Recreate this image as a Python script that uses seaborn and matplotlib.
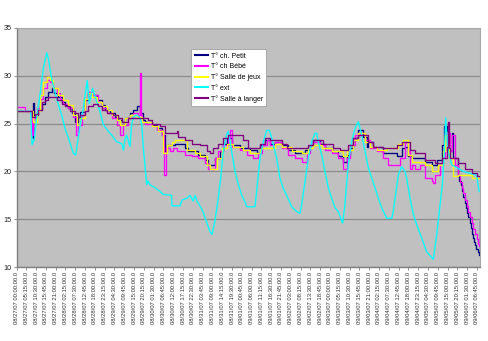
import matplotlib
matplotlib.use("Agg")
import matplotlib.pyplot as plt
import seaborn as sns
import pandas as pd

# Temperature readings: (hours since 08/27/07 00:00, °C)
petit = [(0, 26.3), (8.1, 24.5), (8.6, 23.5), (9.0, 27.2), (9.4, 25.9), (11.7, 26.4), (13.5, 27.0),
         (15.3, 27.8), (17.1, 28.3), (18.8, 28.7), (20.3, 28.2), (22.4, 27.8), (24.2, 27.3), (26.0, 26.9),
         (27.8, 26.6), (29.6, 26.1), (31.3, 25.2), (32.8, 25.7), (34.0, 26.2), (36.7, 27.5), (38.5, 28.2),
         (40.3, 28.0), (43.0, 27.5), (45.6, 26.9), (47.4, 26.4), (50.1, 26.1), (52.8, 25.7), (54.6, 25.4),
         (56.4, 25.2), (58.1, 25.6), (60.8, 26.1), (62.6, 26.4), (64.4, 26.8), (66.2, 26.1), (68.0, 25.4),
         (68.9, 25.2), (72.4, 24.9), (75.1, 24.5), (77.8, 23.8), (79.6, 22.1), (80.5, 22.8), (84.9, 22.9),
         (90.3, 22.4), (92.1, 22.1), (97.4, 21.7), (101.0, 21.2), (102.8, 20.7), (106.4, 21.4), (109.1, 22.1),
         (110.8, 22.9), (112.6, 23.5), (115.3, 22.8), (119.8, 22.4), (125.1, 22.2), (128.7, 21.9), (130.5, 22.8),
         (133.2, 23.3), (135.9, 22.9), (138.5, 23.1), (142.1, 22.8), (145.7, 22.2), (149.3, 21.9), (154.6, 22.2),
         (157.3, 22.8), (159.1, 23.3), (162.6, 22.9), (165.3, 22.4), (168.9, 22.1), (172.5, 21.6), (175.2, 21.0),
         (177.0, 21.7), (178.7, 22.4), (180.5, 23.5), (183.2, 24.3), (185.9, 23.6), (187.7, 22.6), (188.6, 23.1),
         (191.2, 22.6), (196.6, 21.9), (203.7, 21.6), (206.4, 22.4), (208.2, 22.6), (210.0, 21.6), (211.8, 21.4),
         (218.9, 21.0), (222.5, 20.7), (225.2, 21.2), (227.9, 22.8), (229.3, 24.8), (230.5, 24.2), (231.4, 22.1),
         (233.2, 24.0), (234.1, 21.4), (236.8, 19.5), (237.4, 19.0), (238.0, 18.6), (238.7, 17.9), (239.5, 17.3),
         (240.1, 16.7), (240.7, 16.2), (241.4, 15.7), (242.1, 15.2), (242.8, 14.6), (243.4, 14.1), (244.1, 13.5),
         (244.8, 13.0), (245.3, 12.6), (245.7, 12.3), (246.4, 11.9), (247.1, 11.6), (247.9, 11.3), (248.2, 14.8)]

bebe = [(0, 26.7), (4.6, 26.3), (8.1, 23.8), (9.0, 25.6), (10.8, 26.6), (12.6, 27.6), (14.4, 28.7), (16.2, 29.6),
        (18.0, 29.4), (19.7, 28.7), (21.5, 28.2), (23.3, 27.6), (25.1, 27.1), (27.8, 26.6), (30.5, 25.7),
        (31.7, 23.8), (33.1, 24.9), (34.9, 25.9), (36.7, 27.6), (38.5, 28.3), (40.3, 28.0), (43.9, 27.3),
        (45.6, 26.6), (48.3, 26.1), (51.0, 25.6), (53.7, 24.9), (55.5, 23.8), (57.3, 24.9), (59.9, 25.6),
        (62.6, 26.1), (65.3, 25.9), (66.2, 30.3), (66.7, 25.9), (67.1, 25.2), (68.9, 25.0), (72.4, 24.7),
        (75.1, 24.3), (77.8, 23.8), (79.2, 19.6), (80.1, 22.4), (82.3, 22.1), (84.0, 22.4), (85.8, 22.1),
        (90.3, 21.7), (93.9, 21.6), (97.4, 21.4), (101.0, 20.9), (102.8, 20.3), (106.4, 21.4), (108.2, 22.1),
        (110.8, 22.8), (113.5, 23.5), (114.4, 24.3), (115.3, 22.6), (119.8, 22.2), (123.4, 21.7), (126.9, 21.4),
        (129.6, 21.9), (131.4, 22.8), (134.1, 23.3), (135.9, 22.8), (138.5, 23.1), (142.1, 22.4), (145.7, 21.7),
        (149.3, 21.4), (152.8, 21.0), (155.5, 21.9), (157.3, 22.8), (159.1, 23.1), (162.6, 22.8), (165.3, 22.2),
        (168.9, 21.9), (172.5, 21.4), (175.2, 20.3), (177.0, 21.4), (178.7, 22.8), (181.4, 23.8), (184.1, 24.0),
        (186.8, 23.3), (189.4, 22.4), (193.0, 22.1), (196.6, 21.4), (199.3, 20.7), (205.5, 21.4), (208.2, 23.1),
        (210.0, 22.1), (210.9, 20.3), (211.8, 20.7), (213.6, 20.2), (216.0, 20.7), (218.9, 19.3), (222.5, 19.0),
        (223.4, 18.8), (224.3, 19.6), (227.0, 20.7), (228.7, 21.5), (229.6, 23.8), (230.5, 24.0), (232.3, 22.1),
        (233.2, 23.8), (235.0, 20.7), (236.8, 19.6), (237.7, 18.9), (238.6, 18.3), (239.5, 17.7), (240.4, 17.0),
        (241.3, 16.4), (242.2, 15.8), (243.1, 15.2), (243.9, 14.6), (244.8, 14.0), (245.7, 13.5), (246.6, 12.9),
        (247.4, 12.4), (247.9, 12.2), (248.2, 13.0)]

jeux = [(0, 26.3), (9.0, 25.2), (10.8, 26.3), (12.6, 28.0), (14.4, 29.4), (16.2, 29.9), (18.0, 29.6), (19.7, 28.7),
        (22.4, 28.0), (25.1, 27.5), (27.8, 26.9), (30.5, 25.9), (32.2, 24.9), (34.0, 25.6), (36.7, 27.6),
        (38.5, 28.2), (40.3, 27.8), (43.0, 27.3), (45.6, 26.8), (48.3, 26.4), (51.0, 25.9), (53.7, 25.4),
        (55.5, 24.9), (58.1, 25.6), (60.8, 25.9), (64.4, 25.7), (67.1, 25.2), (72.4, 24.7), (76.0, 24.2),
        (78.7, 21.9), (80.5, 22.8), (83.2, 23.1), (84.9, 23.3), (91.2, 22.2), (95.7, 21.9), (98.3, 21.6),
        (101.9, 20.7), (103.7, 20.3), (107.3, 21.4), (110.0, 22.4), (112.6, 22.9), (116.2, 22.6), (121.6, 22.2),
        (125.1, 21.9), (130.5, 22.4), (138.5, 22.9), (142.1, 22.6), (147.5, 22.1), (152.8, 21.9), (156.4, 22.4),
        (159.1, 22.8), (163.5, 22.4), (168.9, 22.1), (175.2, 21.6), (177.0, 22.2), (180.5, 23.3), (183.2, 24.0),
        (186.8, 23.1), (189.4, 22.6), (193.0, 22.2), (198.4, 22.4), (204.6, 22.9), (207.3, 23.3), (210.0, 21.7),
        (211.8, 21.0), (218.9, 20.7), (222.5, 20.0), (226.1, 20.7), (228.7, 22.1), (229.6, 23.8), (231.8, 21.4),
        (234.1, 19.5), (236.8, 19.6), (243.9, 19.3), (248.2, 19.3)]

ext = [(0, 26.3), (7.6, 26.3), (8.3, 22.8), (9.5, 23.3), (10.8, 25.6), (12.6, 28.0), (14.4, 30.8), (16.2, 32.4),
       (17.1, 31.8), (18.8, 29.7), (20.6, 28.3), (22.4, 27.0), (24.2, 25.9), (26.0, 24.5), (27.8, 23.5),
       (29.6, 22.4), (30.5, 21.9), (31.7, 21.7), (32.8, 23.1), (34.0, 24.7), (35.8, 26.6), (37.9, 29.5),
       (39.0, 27.1), (40.8, 28.7), (43.0, 27.3), (44.7, 26.3), (46.5, 24.9), (49.2, 24.2), (51.0, 23.8),
       (53.7, 23.1), (56.4, 22.9), (57.3, 22.2), (58.1, 23.3), (59.0, 23.8), (60.8, 22.6), (61.7, 24.9),
       (62.6, 25.7), (64.4, 25.9), (66.2, 25.6), (67.1, 24.9), (68.0, 22.4), (69.8, 18.6), (70.5, 19.0),
       (71.5, 18.6), (74.2, 18.3), (76.9, 17.9), (78.5, 17.6), (83.1, 17.5), (83.3, 16.4), (87.6, 16.4),
       (88.7, 17.0), (91.4, 17.2), (93.0, 17.5), (94.6, 16.9), (95.7, 17.5), (96.7, 16.9), (98.3, 16.4),
       (99.9, 15.8), (102.1, 14.6), (103.7, 13.7), (104.8, 13.4), (106.4, 14.9), (108.0, 17.0), (109.6, 19.6),
       (110.8, 22.1), (112.6, 23.8), (113.5, 24.2), (115.3, 22.1), (117.1, 20.0), (118.9, 18.6), (120.7, 17.5),
       (122.5, 16.8), (123.4, 16.3), (127.8, 16.3), (128.7, 17.9), (130.5, 21.4), (132.3, 23.1), (134.1, 24.3),
       (135.5, 24.3), (136.8, 23.5), (138.5, 22.1), (139.4, 21.4), (141.2, 19.3), (143.0, 18.2), (144.8, 17.5),
       (147.5, 16.3), (150.2, 15.8), (151.9, 15.6), (152.8, 16.5), (154.6, 18.9), (156.4, 21.4), (158.2, 23.1),
       (160.0, 24.0), (160.9, 24.0), (161.7, 23.1), (163.6, 21.7), (165.3, 20.0), (167.1, 18.3), (168.9, 17.2),
       (170.7, 16.2), (172.5, 15.8), (174.3, 14.8), (174.8, 14.6), (176.0, 16.5), (177.8, 20.7), (179.6, 23.1),
       (181.4, 24.5), (183.2, 25.2), (185.0, 23.8), (186.8, 22.1), (188.5, 20.4), (190.4, 19.3), (192.1, 18.3),
       (193.9, 17.2), (195.7, 16.2), (198.4, 15.1), (201.1, 15.1), (201.9, 15.8), (203.4, 17.9), (204.6, 19.6),
       (206.4, 20.5), (208.2, 20.0), (209.1, 19.3), (210.9, 17.2), (212.7, 15.5), (214.5, 14.4), (217.2, 13.0),
       (219.8, 11.6), (222.5, 11.0), (223.4, 10.8), (225.2, 13.4), (227.0, 16.5), (228.2, 18.6), (229.3, 22.1),
       (230.0, 25.6), (230.5, 24.2), (231.4, 22.1), (233.2, 20.7), (235.9, 20.4), (239.5, 20.0), (243.0, 19.8),
       (246.6, 19.6), (247.9, 17.9)]

langer = [(0, 26.3), (8.1, 25.7), (9.9, 26.0), (11.7, 26.4), (13.5, 27.3), (15.3, 27.5), (17.1, 27.8),
          (21.5, 27.5), (24.2, 27.1), (26.0, 26.8), (28.7, 26.3), (31.3, 26.1), (33.1, 25.7), (34.0, 25.9),
          (36.7, 26.3), (38.5, 26.8), (41.2, 27.1), (43.9, 26.8), (45.7, 26.4), (48.3, 26.1), (51.9, 25.9),
          (54.6, 25.6), (56.4, 25.2), (59.9, 25.6), (70.5, 25.4), (72.4, 25.0), (76.9, 24.7), (79.6, 24.0),
          (85.8, 24.2), (86.7, 23.6), (90.3, 23.3), (93.9, 22.9), (98.3, 22.8), (101.9, 22.1), (103.7, 21.9),
          (105.5, 22.4), (108.2, 22.9), (110.8, 23.5), (113.5, 23.8), (121.6, 23.3), (124.2, 22.4), (130.5, 22.9),
          (133.2, 23.5), (135.9, 23.3), (142.1, 22.9), (144.8, 22.4), (156.4, 22.8), (159.1, 23.3), (164.4, 22.9),
          (169.8, 22.4), (173.4, 22.2), (177.8, 22.8), (180.5, 23.5), (183.2, 23.8), (188.6, 23.1), (191.2, 22.6),
          (196.6, 22.4), (203.7, 22.8), (206.4, 23.1), (210.9, 22.2), (213.6, 21.9), (218.9, 21.2), (224.3, 20.9),
          (227.9, 21.4), (230.5, 22.6), (231.0, 25.2), (231.8, 22.4), (232.3, 21.4), (236.8, 20.9), (240.4, 20.2),
          (243.9, 19.8), (246.6, 19.5), (248.2, 19.3)]

series_names = ["T° ch. Petit", "T° ch Bébé", "T° Salle de jeux", "T° ext", "T° Salle à langer"]
series_colors = ["#000080", "#FF00FF", "#FFFF00", "#00FFFF", "#800080"]
series_steps = [True, True, True, False, True]

tick_labels = [
    "08/27/07 00:00:00.0", "08/27/07 05:15:00.0", "08/27/07 10:30:00.0", "08/27/07 15:45:00.0",
    "08/27/07 21:00:00.0", "08/28/07 02:15:00.0", "08/28/07 07:30:00.0", "08/28/07 12:45:00.0",
    "08/28/07 18:00:00.0", "08/28/07 23:15:00.0", "08/29/07 04:30:00.0", "08/29/07 09:45:00.0",
    "08/29/07 15:00:00.0", "08/29/07 20:15:00.0", "08/30/07 01:30:00.0", "08/30/07 06:45:00.0",
    "08/30/07 12:00:00.0", "08/30/07 17:15:00.0", "08/30/07 22:30:00.0", "08/31/07 03:45:00.0",
    "08/31/07 09:00:00.0", "08/31/07 14:15:00.0", "08/31/07 19:30:00.0", "09/01/07 00:45:00.0",
    "09/01/07 06:00:00.0", "09/01/07 11:15:00.0", "09/01/07 16:30:00.0", "09/01/07 21:45:00.0",
    "09/02/07 03:00:00.0", "09/02/07 08:15:00.0", "09/02/07 13:30:00.0", "09/02/07 18:45:00.0",
    "09/03/07 00:00:00.0", "09/03/07 05:15:00.0", "09/03/07 10:30:00.0", "09/03/07 15:45:00.0",
    "09/03/07 21:00:00.0", "09/04/07 02:15:00.0", "09/04/07 07:30:00.0", "09/04/07 12:45:00.0",
    "09/04/07 18:00:00.0", "09/04/07 23:15:00.0", "09/05/07 04:30:00.0", "09/05/07 09:45:00.0",
    "09/05/07 15:00:00.0", "09/05/07 20:15:00.0", "09/06/07 01:30:00.0", "09/06/07 06:45:00.0",
]

plt.rcParams["font.family"] = ["Liberation Sans", "DejaVu Sans"]

W, H = 488, 341
fig = plt.figure(figsize=(W / 100, H / 100), dpi=100)
fig.patch.set_facecolor("white")
ax = fig.add_axes([16.5 / W, 1 - 267 / H, (480 - 16.5) / W, (267 - 28) / H])
ax.set_facecolor("#C0C0C0")

for data, name, color, step in zip([petit, bebe, jeux, ext, langer],
                                   series_names, series_colors, series_steps):
    df = pd.DataFrame(data, columns=["heure", "temp"])
    kw = {"drawstyle": "steps-post"} if step else {}
    sns.lineplot(data=df, x="heure", y="temp", ax=ax, color=color, linewidth=0.95,
                 estimator=None, sort=False, label=name, legend=False, **kw)

# Category labels placed at their elapsed hours
t0 = pd.to_datetime(tick_labels[0], format="%m/%d/%y %H:%M:%S.0")
tick_hours = [(pd.to_datetime(s, format="%m/%d/%y %H:%M:%S.0") - t0).total_seconds() / 3600
              for s in tick_labels]

ax.set_xlim(0, 248.4)
ax.set_ylim(10, 35)
ax.set_xticks(tick_hours)
ax.set_xticklabels(tick_labels, rotation=90, fontsize=4.2, color="#333333")
ax.set_yticks([10, 15, 20, 25, 30, 35])
ax.set_yticklabels(["10", "15", "20", "25", "30", "35"], fontsize=5.2, color="#222222")
ax.tick_params(axis="x", length=2, width=0.6, pad=1.5, color="#808080")
ax.tick_params(axis="y", length=2, width=0.6, pad=1.5, color="#808080")
ax.set_xlabel("")
ax.set_ylabel("")

ax.yaxis.grid(True, color="#8C8C8C", linewidth=0.9)
ax.xaxis.grid(False)
ax.set_axisbelow(True)
for side in ["left", "bottom"]:
    ax.spines[side].set_color("#808080")
    ax.spines[side].set_linewidth(1.0)
for side in ["top", "right"]:
    ax.spines[side].set_color("#A8A8A8")
    ax.spines[side].set_linewidth(0.8)

leg = ax.legend(loc="upper left", bbox_to_anchor=(188 / W, 1 - 46 / H),
                bbox_transform=fig.transFigure, fontsize=5, frameon=True, fancybox=False,
                framealpha=1, facecolor="white", edgecolor="#A0A0A0",
                handlelength=1.9, handletextpad=0.4, labelspacing=0.5, borderpad=0.45)
leg.get_frame().set_linewidth(0.6)
for line in leg.get_lines():
    line.set_linewidth(1.5)

fig.savefig("out.png", dpi=100, facecolor="white")
